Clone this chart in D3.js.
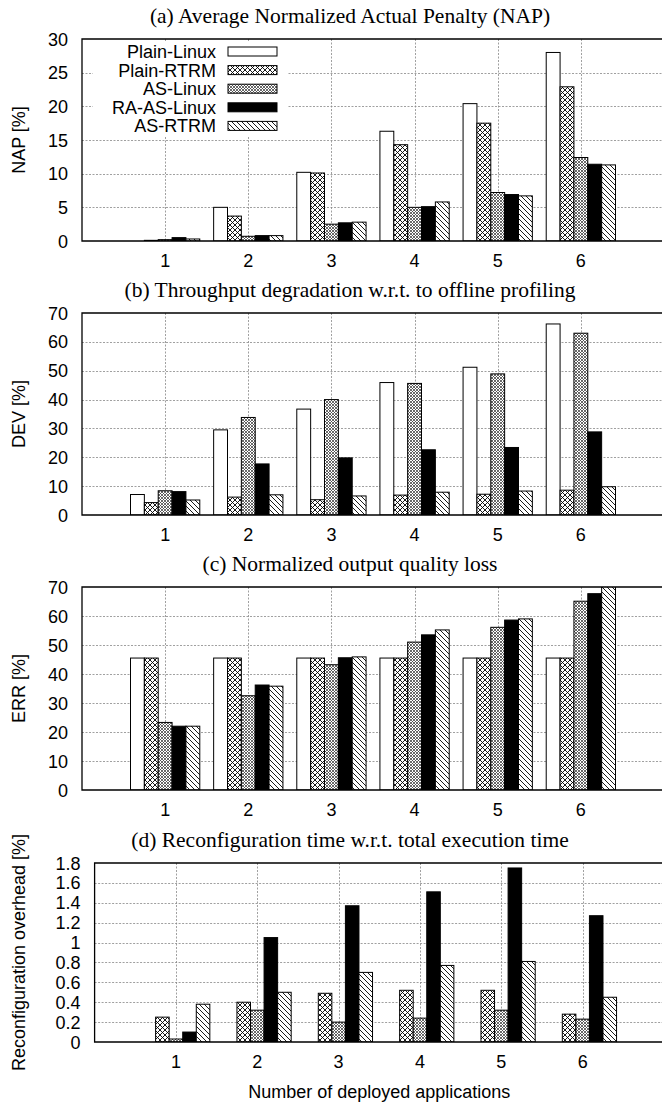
<!DOCTYPE html>
<html>
<head>
<meta charset="utf-8">
<script src="https://cdn.jsdelivr.net/npm/d3@7"></script>
<style>
  body { margin: 0; background: #fff; }
  svg { display: block; }
</style>
</head>
<body>
<div id="chart"></div>
<script>
// categories on the x axis and the five configurations
const categories = ['1', '2', '3', '4', '5', '6'];
const series = ['Plain-Linux', 'Plain-RTRM', 'AS-Linux', 'RA-AS-Linux', 'AS-RTRM'];

// one row per series, one value per category
const napValues = [
  [0, 5.0, 10.2, 16.3, 20.4, 28.0],
  [0.1, 3.7, 10.1, 14.3, 17.5, 22.9],
  [0.2, 0.7, 2.5, 5.0, 7.2, 12.4],
  [0.5, 0.8, 2.7, 5.1, 6.9, 11.4],
  [0.3, 0.8, 2.8, 5.8, 6.7, 11.3]
];
const devValues = [
  [7.1, 29.5, 36.7, 45.9, 51.2, 66.2],
  [4.3, 6.2, 5.3, 6.9, 7.2, 8.6],
  [8.4, 33.8, 40.0, 45.6, 48.9, 63.0],
  [8.1, 17.7, 19.8, 22.6, 23.4, 28.8],
  [5.2, 7.0, 6.6, 7.9, 8.3, 9.8]
];
const errValues = [
  [45.5, 45.5, 45.5, 45.5, 45.5, 45.5],
  [45.5, 45.5, 45.5, 45.5, 45.5, 45.5],
  [23.3, 32.5, 43.2, 51.0, 56.1, 65.1],
  [22.0, 36.2, 45.6, 53.5, 58.6, 67.7],
  [22.0, 35.8, 45.9, 55.2, 59.0, 70.5]
];
const reconfValues = [
  [0, 0, 0, 0, 0, 0],
  [0.25, 0.40, 0.49, 0.52, 0.52, 0.28],
  [0.03, 0.32, 0.20, 0.24, 0.32, 0.23],
  [0.10, 1.05, 1.37, 1.51, 1.75, 1.27],
  [0.38, 0.50, 0.70, 0.77, 0.81, 0.45]
];

// tick labels
const napTicks = [0, 5, 10, 15, 20, 25, 30];
const devTicks = [0, 10, 20, 30, 40, 50, 60, 70];
const errTicks = [0, 10, 20, 30, 40, 50, 60, 70];
const reconfTicks = [0, 0.2, 0.4, 0.6, 0.8, 1, 1.2, 1.4, 1.6, 1.8];

const titles = [
  '(a) Average Normalized Actual Penalty (NAP)',
  '(b) Throughput degradation w.r.t. to offline profiling',
  '(c) Normalized output quality loss',
  '(d) Reconfiguration time w.r.t. total execution time'
];
const yLabels = ['NAP [%]', 'DEV [%]', 'ERR [%]', 'Reconfiguration overhead [%]'];
const xLabel = 'Number of deployed applications';

const width = 662, height = 1102;
const SANS = '"Liberation Sans", Arial, Helvetica, sans-serif';
const SERIF = '"Liberation Serif", "Times New Roman", serif';

const svg = d3.select('#chart').append('svg')
  .attr('width', width)
  .attr('height', height);

const defs = svg.append('defs');

// gnuplot-like fill patterns
function hatch(id, size, paths, stroke, sw) {
  const p = defs.append('pattern')
    .attr('id', id)
    .attr('patternUnits', 'userSpaceOnUse')
    .attr('width', size)
    .attr('height', size);
  p.append('rect').attr('width', size).attr('height', size).attr('fill', '#fff');
  paths.forEach(d => {
    p.append('path').attr('d', d)
      .attr('stroke', stroke)
      .attr('stroke-width', sw)
      .attr('fill', 'none');
  });
}
hatch('p-cross', 5, ['M0,0L5,5M-1,4L1,6M4,-1L6,1', 'M0,5L5,0M-1,1L1,-1M4,6L6,4'], '#000', 0.9);
hatch('p-fine', 3, ['M0,0L3,3M-1,2L1,4M2,-1L4,1', 'M0,3L3,0M-1,1L1,-1M2,4L4,2'], '#444', 0.8);
hatch('p-diag', 5, ['M0,0L5,5M-1,4L1,6M4,-1L6,1'], '#000', 0.9);

const fills = ['#fff', 'url(#p-cross)', 'url(#p-fine)', '#000', 'url(#p-diag)'];

const panels = [
  { values: napValues, ticks: napTicks, max: 30, left: 82, top: 39, bottom: 241 },
  { values: devValues, ticks: devTicks, max: 70, left: 82, top: 313, bottom: 515 },
  { values: errValues, ticks: errTicks, max: 70, left: 82, top: 587, bottom: 790 },
  { values: reconfValues, ticks: reconfTicks, max: 1.8, left: 94.6, top: 863, bottom: 1042 }
];
const plotRight = 664;

panels.forEach((p, idx) => {
  const g = svg.append('g');

  const x = d3.scaleLinear()
    .domain([0, categories.length + 1])
    .range([p.left, plotRight]);
  const step = x(1) - x(0);
  const bw = step / (series.length + 1);
  const xs = d3.scaleBand()
    .domain(series)
    .range([-bw * series.length / 2, bw * series.length / 2]);

  const y = d3.scaleLinear()
    .domain([0, p.max])
    .range([p.bottom, p.top]);

  // clip for bars that run past the top
  defs.append('clipPath').attr('id', 'clip' + idx)
    .append('rect')
    .attr('x', p.left).attr('y', p.top)
    .attr('width', plotRight - p.left).attr('height', p.bottom - p.top);

  // grid
  g.append('g').selectAll('line.h')
    .data(p.ticks.slice(1, -1))
    .enter().append('line')
    .attr('x1', p.left).attr('x2', plotRight)
    .attr('y1', d => Math.round(y(d)) + 0.5).attr('y2', d => Math.round(y(d)) + 0.5)
    .attr('stroke', '#888').attr('stroke-width', 0.8)
    .attr('stroke-dasharray', '2,1.5');
  g.append('g').selectAll('line.v')
    .data(categories)
    .enter().append('line')
    .attr('x1', (d, i) => Math.round(x(i + 1)) + 0.5).attr('x2', (d, i) => Math.round(x(i + 1)) + 0.5)
    .attr('y1', p.top).attr('y2', p.bottom)
    .attr('stroke', '#888').attr('stroke-width', 0.8)
    .attr('stroke-dasharray', '2,1.5');

  // bars
  const barData = [];
  p.values.forEach((row, s) => {
    row.forEach((v, c) => barData.push({ s, c, v }));
  });
  g.append('g')
    .attr('clip-path', 'url(#clip' + idx + ')')
    .selectAll('rect')
    .data(barData)
    .enter().append('rect')
    .attr('x', d => x(d.c + 1) + xs(series[d.s]))
    .attr('width', bw)
    .attr('y', d => y(d.v))
    .attr('height', d => y(0) - y(d.v))
    .attr('fill', d => fills[d.s])
    .attr('stroke', '#000')
    .attr('stroke-width', 1);

  // border (left, top, bottom; the right side is cut off by the page)
  g.append('path')
    .attr('d', `M${plotRight + 2},${p.top}H${p.left}V${p.bottom}H${plotRight + 2}`)
    .attr('fill', 'none')
    .attr('stroke', '#000')
    .attr('stroke-width', 1.3);

  // y tick labels
  g.append('g').selectAll('text')
    .data(p.ticks)
    .enter().append('text')
    .attr('x', p.left - 14)
    .attr('y', d => y(d) + 6.5)
    .attr('text-anchor', 'end')
    .style('font-family', SANS)
    .style('font-size', '18px')
    .text(d => d3.format('~g')(d));

  // x tick labels
  g.append('g').selectAll('text')
    .data(categories)
    .enter().append('text')
    .attr('x', (d, i) => x(i + 1))
    .attr('y', p.bottom + 26)
    .attr('text-anchor', 'middle')
    .style('font-family', SANS)
    .style('font-size', '18px')
    .text(d => d);

  // y axis label
  g.append('text')
    .attr('transform', `translate(25,${(p.top + p.bottom) / 2}) rotate(-90)`)
    .attr('text-anchor', 'middle')
    .style('font-family', SANS)
    .style('font-size', '18px')
    .text(yLabels[idx]);

  // panel title
  svg.append('text')
    .attr('x', 350)
    .attr('y', p.top - 16)
    .attr('text-anchor', 'middle')
    .style('font-family', SERIF)
    .style('font-size', '21.5px')
    .text(titles[idx]);

  // legend in the first panel
  if (idx === 0) {
    const lg = g.append('g');
    lg.append('rect')
      .attr('x', 93).attr('y', 41)
      .attr('width', 195).attr('height', 95)
      .attr('fill', '#fff');
    series.forEach((s, i) => {
      const cy = 51.5 + i * 18.6;
      lg.append('text')
        .attr('x', 216)
        .attr('y', cy + 6.5)
        .attr('text-anchor', 'end')
        .style('font-family', SANS)
        .style('font-size', '18px')
        .text(s);
      lg.append('rect')
        .attr('x', 228).attr('y', cy - 4.5)
        .attr('width', 49).attr('height', 9)
        .attr('fill', fills[i])
        .attr('stroke', '#000')
        .attr('stroke-width', 1);
    });
  }

  if (idx === panels.length - 1) {
    svg.append('text')
      .attr('x', (p.left + plotRight) / 2)
      .attr('y', p.bottom + 56)
      .attr('text-anchor', 'middle')
      .style('font-family', SANS)
      .style('font-size', '18px')
      .text(xLabel);
  }
});
</script>
</body>
</html>
